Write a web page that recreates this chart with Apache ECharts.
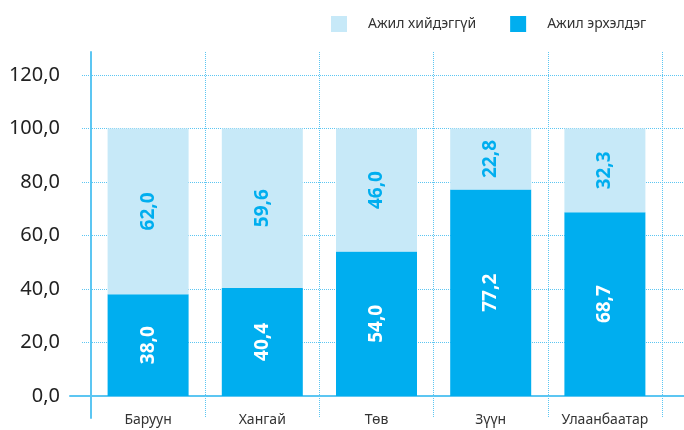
<!DOCTYPE html>
<html>
<head>
<meta charset="utf-8">
<script src="https://cdn.jsdelivr.net/npm/echarts@6/dist/echarts.min.js"></script>
<style>
  html, body { margin: 0; padding: 0; background: #fff; }
  #chartmain { width: 684px; height: 430px; }
</style>
</head>
<body>
<div id="chartmain"></div>
<script>
// бүсүүд
var regions = ["Баруун", "Хангай", "Төв", "Зүүн", "Улаанбаатар"];
var employed = [38.0, 40.4, 54.0, 77.2, 68.7];        // Ажил эрхэлдэг
var notWorking = [62.0, 59.6, 46.0, 22.8, 31.3];      // Ажил хийдэггүй (bar height as drawn)
var notWorkingLabels = [62.0, 59.6, 46.0, 22.8, 32.3]; // printed labels
var yTicks = [0, 20, 40, 60, 80, 100, 120];

var darkBlue = "#00aeef";
var lightBlue = "#c7e9f8";
var lineBlue = "#5cc6f2";
var font = "Noto Sans";

function fmt(v) {
  return Number(v).toFixed(1).replace(".", ",");
}

var option = {
  animation: false,
  textStyle: { fontFamily: font },
  legend: {
    data: ["Ажил хийдэггүй", "Ажил эрхэлдэг"],
    top: 11,
    left: 326,
    itemWidth: 16,
    itemHeight: 16,
    itemGap: 34,
    icon: "rect",
    textStyle: { fontSize: 14, color: "#333", fontFamily: font, padding: [0, 0, 0, 16] }
  },
  grid: [
    { left: 91, right: 22, top: 75, bottom: 34 },  // bars
    { left: 91, right: 22, top: 52, bottom: 12 },  // vertical frame
    { left: 82, right: 0, top: 75, bottom: 34 },   // horizontal lines
    { left: 70, right: 0, top: 75, bottom: 34 }    // x axis line
  ],
  xAxis: [
    {
      gridIndex: 0, type: "category", data: regions,
      axisLine: { show: false }, axisTick: { show: false },
      axisLabel: { color: "#333", fontSize: 14, margin: 17, fontFamily: font }
    },
    {
      gridIndex: 1, type: "category", data: regions,
      axisLine: { show: false }, axisTick: { show: false }, axisLabel: { show: false },
      splitLine: { show: true, lineStyle: { color: lineBlue, type: [1, 1], width: 1 } }
    },
    { gridIndex: 2, type: "value", show: false, min: 0, max: 1 },
    {
      gridIndex: 3, type: "value", min: 0, max: 1,
      axisLine: { show: true, lineStyle: { color: lineBlue, width: 2 } },
      axisTick: { show: false }, axisLabel: { show: false }, splitLine: { show: false }
    }
  ],
  yAxis: [
    {
      gridIndex: 0, type: "value", min: yTicks[0], max: yTicks[yTicks.length - 1], interval: 20,
      axisLine: { show: false }, axisTick: { show: false }, splitLine: { show: false },
      axisLabel: { color: "#222", fontSize: 20, margin: 31, fontFamily: font, formatter: fmt }
    },
    {
      gridIndex: 1, type: "value", min: 0, max: 1,
      axisLine: { show: true, lineStyle: { color: lineBlue, width: 2 } },
      axisTick: { show: false }, axisLabel: { show: false }, splitLine: { show: false }
    },
    {
      gridIndex: 2, type: "value", min: yTicks[0], max: yTicks[yTicks.length - 1], interval: 20,
      axisLine: { show: false }, axisTick: { show: false }, axisLabel: { show: false },
      splitLine: { show: true, lineStyle: { color: lineBlue, type: [1, 1], width: 1 } }
    },
    { gridIndex: 3, type: "value", show: false, min: 0, max: 1 }
  ],
  series: [
    {
      name: "Ажил эрхэлдэг", type: "bar", stack: "a", data: employed,
      xAxisIndex: 0, yAxisIndex: 0, barWidth: 81,
      itemStyle: { color: darkBlue },
      label: {
        show: true, position: "inside", rotate: 90, color: "#fff",
        fontSize: 19, fontWeight: "bold", fontFamily: font,
        formatter: function(p) { return fmt(p.value); }
      }
    },
    {
      name: "Ажил хийдэггүй", type: "bar", stack: "a", data: notWorking,
      xAxisIndex: 0, yAxisIndex: 0, barWidth: 81,
      itemStyle: { color: lightBlue },
      label: {
        show: true, position: "inside", rotate: 90, color: darkBlue,
        fontSize: 19, fontWeight: "bold", fontFamily: font,
        formatter: function(p) { return fmt(notWorkingLabels[p.dataIndex]); }
      }
    }
  ]
};

var myChart = echarts.init(document.getElementById("chartmain"));
myChart.setOption(option);
</script>
</body>
</html>
